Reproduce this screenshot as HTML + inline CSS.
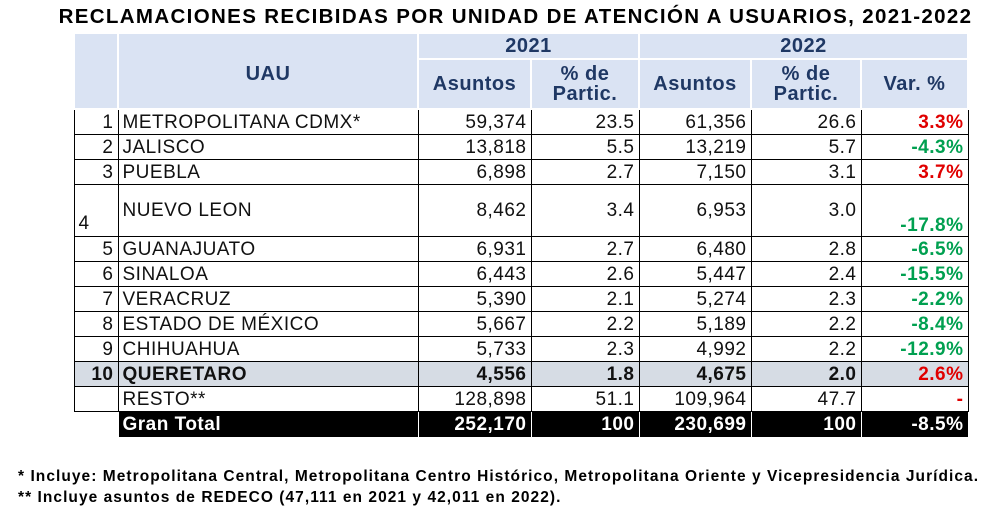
<!DOCTYPE html>
<html><head><meta charset="utf-8"><style>
body{margin:0;width:995px;height:511px;background:#fff;font-family:"Liberation Sans",sans-serif;position:relative;overflow:hidden}
.t{position:absolute;left:18px;width:995px;top:5px;text-align:center;font-weight:bold;font-size:20.5px;letter-spacing:1.35px;color:#000}
table{position:absolute;left:73px;top:32px;border-collapse:collapse;table-layout:fixed}
td{padding:0 4px;font-size:19px;letter-spacing:0.5px;color:#111;line-height:1;white-space:nowrap}
.h{background:#dae3f3;color:#1f3864;font-weight:bold;text-align:center;border:2px solid #fff;font-size:20px}
.d td{border:1px solid #000;height:24px}
.r{text-align:right}
.red{color:#e00000;font-weight:bold;text-align:right}
.grn{color:#00a050;font-weight:bold;text-align:right}
.q td{background:#d6dce4;font-weight:bold}
.g td{background:#000;color:#fff;font-weight:bold;border:1px solid #fff;height:25px}
.f{position:absolute;left:18px;font-weight:bold;font-size:15.5px;letter-spacing:1.05px;color:#000}
</style></head><body>
<div class="t">RECLAMACIONES RECIBIDAS POR UNIDAD DE ATENCIÓN A USUARIOS, 2021-2022</div>
<table>
<colgroup><col style="width:44px"><col style="width:300px"><col style="width:113px"><col style="width:108px"><col style="width:112px"><col style="width:110px"><col style="width:107px"></colgroup>
<tr><td class="h" rowspan="2" style="height:74px"></td><td class="h" rowspan="2" style="vertical-align:top;padding-top:30px">UAU</td><td class="h" colspan="2" style="height:24px">2021</td><td class="h" colspan="3">2022</td></tr>
<tr><td class="h" style="height:48px">Asuntos</td><td class="h">% de<br>Partic.</td><td class="h">Asuntos</td><td class="h">% de<br>Partic.</td><td class="h">Var. %</td></tr>
<tr class="d"><td class="r">1</td><td>METROPOLITANA CDMX*</td><td class="r">59,374</td><td class="r">23.5</td><td class="r">61,356</td><td class="r">26.6</td><td class="red">3.3%</td></tr>
<tr class="d"><td class="r">2</td><td>JALISCO</td><td class="r">13,818</td><td class="r">5.5</td><td class="r">13,219</td><td class="r">5.7</td><td class="grn">-4.3%</td></tr>
<tr class="d"><td class="r">3</td><td>PUEBLA</td><td class="r">6,898</td><td class="r">2.7</td><td class="r">7,150</td><td class="r">3.1</td><td class="red">3.7%</td></tr>
<tr class="d"><td style="height:48px;vertical-align:bottom;padding-bottom:3px">4</td><td>NUEVO LEON</td><td class="r">8,462</td><td class="r">3.4</td><td class="r">6,953</td><td class="r">3.0</td><td class="grn" style="vertical-align:bottom;padding-bottom:1px">-17.8%</td></tr>
<tr class="d"><td class="r">5</td><td>GUANAJUATO</td><td class="r">6,931</td><td class="r">2.7</td><td class="r">6,480</td><td class="r">2.8</td><td class="grn">-6.5%</td></tr>
<tr class="d"><td class="r">6</td><td>SINALOA</td><td class="r">6,443</td><td class="r">2.6</td><td class="r">5,447</td><td class="r">2.4</td><td class="grn">-15.5%</td></tr>
<tr class="d"><td class="r">7</td><td>VERACRUZ</td><td class="r">5,390</td><td class="r">2.1</td><td class="r">5,274</td><td class="r">2.3</td><td class="grn">-2.2%</td></tr>
<tr class="d"><td class="r">8</td><td>ESTADO DE MÉXICO</td><td class="r">5,667</td><td class="r">2.2</td><td class="r">5,189</td><td class="r">2.2</td><td class="grn">-8.4%</td></tr>
<tr class="d"><td class="r">9</td><td>CHIHUAHUA</td><td class="r">5,733</td><td class="r">2.3</td><td class="r">4,992</td><td class="r">2.2</td><td class="grn">-12.9%</td></tr>
<tr class="d q"><td class="r">10</td><td>QUERETARO</td><td class="r">4,556</td><td class="r">1.8</td><td class="r">4,675</td><td class="r">2.0</td><td class="red">2.6%</td></tr>
<tr class="d"><td></td><td>RESTO**</td><td class="r">128,898</td><td class="r">51.1</td><td class="r">109,964</td><td class="r">47.7</td><td class="red">-</td></tr>
<tr class="g"><td style="background:#fff;border:none"></td><td>Gran Total</td><td class="r">252,170</td><td class="r">100</td><td class="r">230,699</td><td class="r">100</td><td class="r">-8.5%</td></tr>
</table>
<div class="f" style="top:468px">* Incluye: Metropolitana Central, Metropolitana Centro Histórico, Metropolitana Oriente y Vicepresidencia Jurídica.</div>
<div class="f" style="top:489px">** Incluye asuntos de REDECO (47,111 en 2021 y 42,011 en 2022).</div>
</body></html>
